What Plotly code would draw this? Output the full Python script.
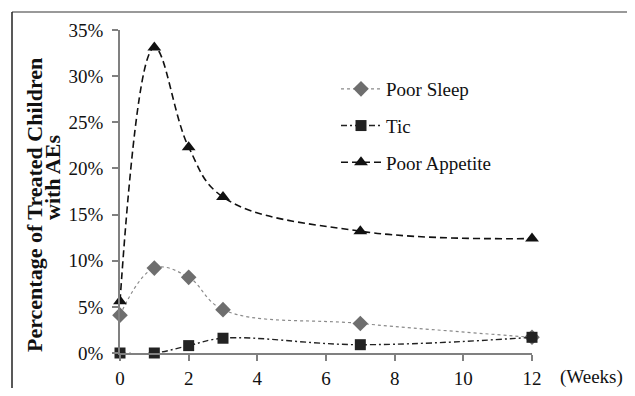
import plotly.graph_objects as go

weeks = [0, 1, 2, 3, 7, 12]
poor_sleep = [4.1, 9.2, 8.2, 4.7, 3.2, 1.7]
tic = [0.0, 0.0, 0.8, 1.6, 0.9, 1.7]
poor_appetite = [5.6, 33.1, 22.3, 16.9, 13.2, 12.4]
y_ticks = [0, 5, 10, 15, 20, 25, 30, 35]
y_ticklabels = [f"{v}%" for v in y_ticks]
x_ticks = [0, 2, 4, 6, 8, 10, 12]
y_title_lines = ["Percentage of Treated Children", "with AEs"]

OFF = 8  # default page body margin
W, H = 619, 380
L, T = 112, 22
pw, ph = 412, 323
R = W - L - pw
B = H - T - ph

font = "Liberation Serif, Times New Roman, serif"
FS = 19

fig = go.Figure()
fig.add_trace(go.Scatter(
    x=weeks, y=poor_sleep, name="Poor Sleep", mode="lines+markers",
    line=dict(color="#8a8a8a", width=1.2, dash="dot", shape="spline", smoothing=1.1),
    marker=dict(symbol="diamond", size=12, color="#6e6e6e"),
    cliponaxis=False, legendgroup="a"))
fig.add_trace(go.Scatter(
    x=weeks, y=tic, name="Tic", mode="lines+markers",
    line=dict(color="#222222", width=1.4, dash="6px,3px,2px,3px", shape="spline", smoothing=1.1),
    marker=dict(symbol="square", size=11, color="#222222"),
    cliponaxis=False, legendgroup="b"))
fig.add_trace(go.Scatter(
    x=weeks, y=poor_appetite, name="Poor Appetite", mode="lines+markers",
    line=dict(color="#111111", width=1.6, dash="7px,4px", shape="spline", smoothing=1.1),
    marker=dict(symbol="triangle-up", size=12, color="#111111"),
    cliponaxis=False, legendgroup="c"))

def px(x):  # page x -> paper
    return (x - OFF - L) / pw

def py(y):  # page y -> paper
    return (H - B - (y - OFF)) / ph

annotations = [
    dict(text="(Weeks)", xref="paper", yref="paper",
         x=px(558), y=py(377), xanchor="left", yanchor="middle",
         showarrow=False, font=dict(family=font, size=FS)),
    dict(text=f"<b>{y_title_lines[0]}</b>", xref="paper", yref="paper",
         x=px(34), y=py(205), xanchor="center", yanchor="middle", textangle=-90,
         showarrow=False, font=dict(family=font, size=22)),
    dict(text=f"<b>{y_title_lines[1]}</b>", xref="paper", yref="paper",
         x=px(52), y=py(178), xanchor="center", yanchor="middle", textangle=-90,
         showarrow=False, font=dict(family=font, size=22)),
]

fig.update_layout(
    width=W, height=H,
    margin=dict(l=L, r=R, t=T, b=B, autoexpand=False),
    paper_bgcolor="white", plot_bgcolor="white",
    font=dict(family=font, size=FS, color="#111111"),
    showlegend=True,
    legend=dict(x=px(336), y=py(70), xanchor="left", yanchor="top",
                bgcolor="rgba(0,0,0,0)", font=dict(family=font, size=FS),
                tracegroupgap=9, itemwidth=40),
    xaxis=dict(range=[0, 12], tickvals=x_ticks, showgrid=False, zeroline=False,
               automargin=False,
               showline=True, linecolor="#808080", linewidth=1.5,
               ticks="outside", ticklen=6, tickcolor="#808080", tickwidth=1.5,
               ticklabelstandoff=1,
               tickfont=dict(family=font, size=FS)),
    yaxis=dict(range=[0, 35], tickvals=y_ticks, ticktext=y_ticklabels,
               showgrid=False, zeroline=False, automargin=False,
               showline=True, linecolor="#808080", linewidth=1.5,
               ticks="outside", ticklen=6, tickcolor="#808080", tickwidth=1.5,
               ticklabelstandoff=5,
               tickfont=dict(family=font, size=FS)),
    annotations=annotations,
    shapes=[
        dict(type="line", xref="paper", yref="paper", x0=px(12), x1=px(640),
             y0=py(12), y1=py(12), line=dict(color="#777777", width=1.5)),
        dict(type="line", xref="paper", yref="paper", x0=px(12), x1=px(12),
             y0=py(12), y1=py(400), line=dict(color="#222222", width=1.5)),
    ],
)

fig.write_html("out.html")
